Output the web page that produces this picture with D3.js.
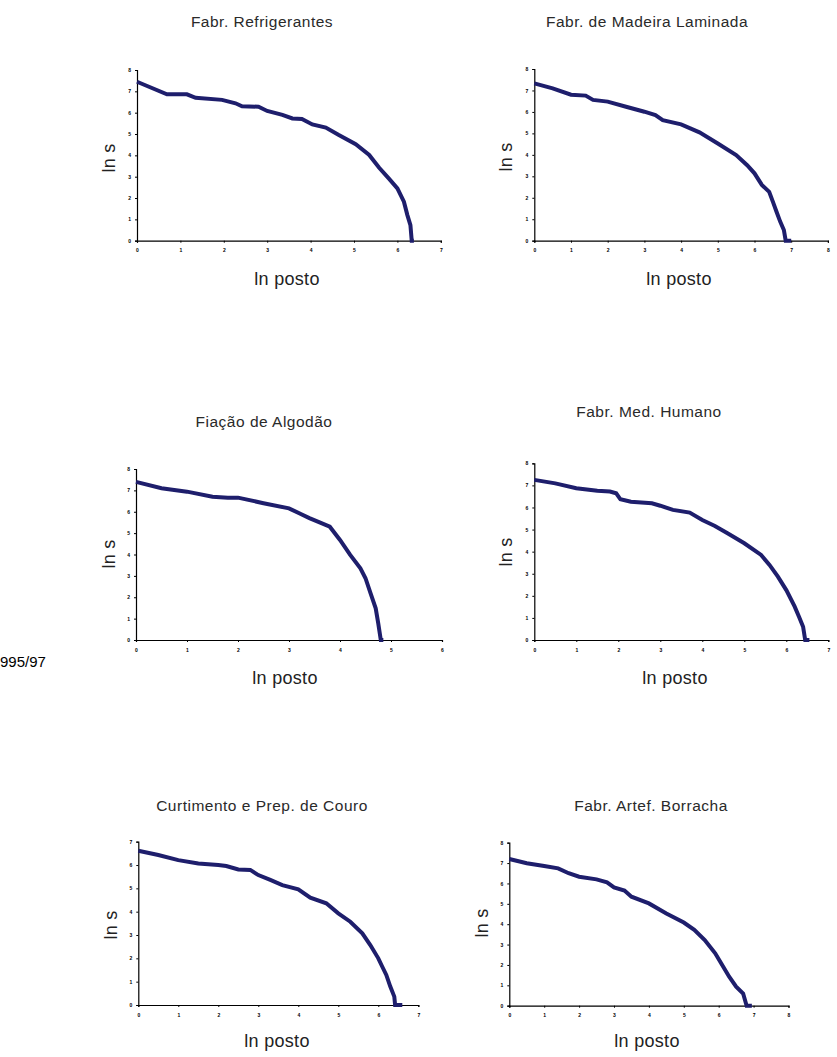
<!DOCTYPE html>
<html>
<head>
<meta charset="utf-8">
<script src="https://cdn.jsdelivr.net/npm/d3@7"></script>
<style>
  body { margin: 0; background: #fff; }
  .tick text { font-family: "Liberation Sans", Arial, sans-serif; font-size: 5px; font-weight: bold; }
</style>
</head>
<body>
<div id="chart"></div>
<script>
// titles of the six panels
var titles = ["Fabr. Refrigerantes", "Fabr. de Madeira Laminada", "Fiação de Algodão",
              "Fabr. Med. Humano", "Curtimento e Prep. de Couro", "Fabr. Artef. Borracha"]

// ln posto / ln s
var refrigX = [0, 0.69, 1.15, 1.35, 1.96, 2.27, 2.42, 2.8, 3.0, 3.35, 3.58, 3.8, 4.04, 4.35, 4.65, 5.04, 5.35, 5.58, 5.8, 6.0, 6.15, 6.23, 6.3, 6.33, 6.38]
var refrigY = [7.45, 6.86, 6.86, 6.7, 6.6, 6.44, 6.3, 6.28, 6.08, 5.9, 5.73, 5.7, 5.45, 5.3, 4.95, 4.52, 4.02, 3.42, 2.92, 2.45, 1.83, 1.2, 0.73, 0, 0]

var madeiraX = [0, 0.5, 1.0, 1.4, 1.6, 2.0, 2.5, 3.0, 3.3, 3.5, 4.0, 4.5, 5.0, 5.5, 5.8, 6.0, 6.2, 6.4, 6.5, 6.6, 6.7, 6.8, 6.85, 7.0]
var madeiraY = [7.33, 7.1, 6.8, 6.76, 6.56, 6.48, 6.24, 6.01, 5.85, 5.62, 5.42, 5.05, 4.53, 3.99, 3.52, 3.14, 2.6, 2.28, 1.82, 1.35, 0.89, 0.5, 0, 0]

var algodaoX = [0, 0.5, 1.0, 1.5, 1.8, 2.0, 2.5, 3.0, 3.2, 3.4, 3.6, 3.8, 4.0, 4.2, 4.4, 4.5, 4.6, 4.7, 4.75, 4.8, 4.85]
var algodaoY = [7.4, 7.1, 6.94, 6.7, 6.66, 6.66, 6.4, 6.16, 5.93, 5.7, 5.5, 5.3, 4.68, 3.98, 3.35, 2.89, 2.18, 1.48, 0.78, 0, 0]

var medX = [0, 0.5, 1.0, 1.5, 1.8, 1.95, 2.05, 2.3, 2.8, 3.0, 3.3, 3.7, 4.0, 4.3, 4.6, 5.0, 5.4, 5.6, 5.8, 6.0, 6.2, 6.3, 6.4, 6.45, 6.55]
var medY = [7.25, 7.09, 6.87, 6.76, 6.72, 6.64, 6.37, 6.26, 6.19, 6.08, 5.89, 5.77, 5.43, 5.16, 4.83, 4.38, 3.85, 3.4, 2.87, 2.26, 1.51, 1.06, 0.6, 0, 0]

var couroX = [0, 0.5, 1.0, 1.5, 2.0, 2.2, 2.5, 2.8, 3.0, 3.3, 3.6, 4.0, 4.3, 4.7, 5.0, 5.3, 5.6, 5.8, 6.0, 6.1, 6.2, 6.3, 6.4, 6.42, 6.6]
var couroY = [6.61, 6.43, 6.21, 6.07, 6.0, 5.96, 5.81, 5.79, 5.57, 5.36, 5.14, 4.96, 4.6, 4.36, 3.93, 3.57, 3.07, 2.57, 2.0, 1.64, 1.29, 0.79, 0.36, 0, 0]

var borrachaX = [0, 0.5, 1.0, 1.4, 1.7, 2.0, 2.5, 2.8, 3.0, 3.3, 3.5, 4.0, 4.5, 5.0, 5.3, 5.6, 5.9, 6.1, 6.3, 6.5, 6.7, 6.8, 6.95]
var borrachaY = [7.2, 6.99, 6.86, 6.74, 6.5, 6.33, 6.2, 6.05, 5.81, 5.65, 5.35, 5.02, 4.53, 4.08, 3.72, 3.22, 2.57, 2.0, 1.42, 0.93, 0.6, 0, 0]

var xMax = [7, 8, 6, 7, 7, 8]
var yMax = [8, 8, 8, 8, 7, 8]

var series = [[refrigX, refrigY], [madeiraX, madeiraY], [algodaoX, algodaoY],
              [medX, medY], [couroX, couroY], [borrachaX, borrachaY]]

// layout of each panel (pixels)
var frames = [
  {x0: 137, x1: 440.8, y0: 240.7, y1: 70, tx: 262, ty: 27, lx: 287, ly: 285, sx: 115, sy: 158},
  {x0: 534.3, x1: 827.9, y0: 240.7, y1: 69, tx: 647, ty: 27, lx: 679, ly: 285, sx: 511.5, sy: 157},
  {x0: 136, x1: 442, y0: 640, y1: 469, tx: 264, ty: 427, lx: 285, ly: 684, sx: 115, sy: 554},
  {x0: 534.3, x1: 828.3, y0: 640, y1: 463.3, tx: 649, ty: 417, lx: 675, ly: 684, sx: 511.5, sy: 552},
  {x0: 138.3, x1: 418.3, y0: 1005, y1: 841.7, tx: 262, ty: 811, lx: 277, ly: 1047, sx: 116.5, sy: 925},
  {x0: 509.3, x1: 788.5, y0: 1005.7, y1: 842.7, tx: 651, ty: 811, lx: 647, ly: 1047, sx: 488, sy: 923}
]

var lineColor = "#1e1e6c"
var font = "'Liberation Sans', Arial, sans-serif"

var svg = d3.select("#chart")
    .append("svg")
    .attr("width", 837)
    .attr("height", 1057)

svg.append("text")
    .attr("x", 0)
    .attr("y", 667)
    .style("font-family", font)
    .style("font-size", "15px")
    .text("995/97")

frames.forEach((f, i) => {
    let x = d3.scaleLinear().domain([0, xMax[i]]).range([f.x0, f.x1])
    let y = d3.scaleLinear().domain([0, yMax[i]]).range([f.y0, f.y1])
    let g = svg.append("g")

    //axes
    g.append("g")
        .attr("transform", "translate(0," + f.y0 + ")")
        .call(d3.axisBottom(x).ticks(xMax[i]).tickSize(2).tickPadding(6))
    g.append("g")
        .attr("transform", "translate(" + f.x0 + ",0)")
        .call(d3.axisLeft(y).ticks(yMax[i]).tickSize(2).tickPadding(4))
    g.selectAll(".domain").attr("stroke", "#000").attr("stroke-width", 1.2)

    //curve
    let pts = series[i][0].map((v, k) => [v, series[i][1][k]])
    let line = d3.line().x(d => x(d[0])).y(d => y(d[1]))
    g.append("path")
        .datum(pts)
        .attr("d", line)
        .attr("fill", "none")
        .attr("stroke", lineColor)
        .attr("stroke-width", 4)
        .attr("stroke-linejoin", "miter")

    //labels
    g.append("text")
        .attr("x", f.tx).attr("y", f.ty)
        .attr("text-anchor", "middle")
        .style("font-family", font).style("font-size", "15.5px")
        .style("letter-spacing", "0.5px").style("fill", "#2a2a2a")
        .text(titles[i])
    g.append("text")
        .attr("x", f.lx).attr("y", f.ly)
        .attr("text-anchor", "middle")
        .style("font-family", font).style("font-size", "18px")
        .style("letter-spacing", "0.3px").style("fill", "#222")
        .text("ln posto")
    g.append("text")
        .attr("transform", "translate(" + f.sx + "," + f.sy + ") rotate(-90)")
        .attr("text-anchor", "middle")
        .style("font-family", font).style("font-size", "18px")
        .style("letter-spacing", "0.3px").style("fill", "#222")
        .text("ln s")
})
</script>
</body>
</html>
